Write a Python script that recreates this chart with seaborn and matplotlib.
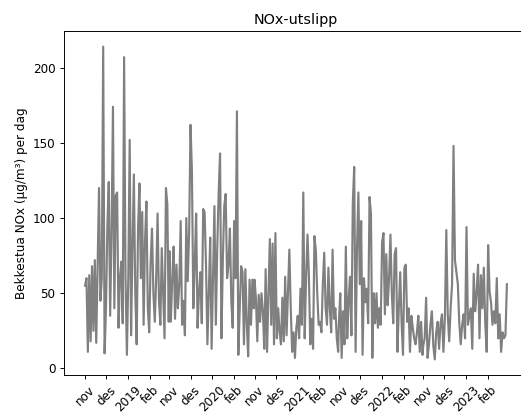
import numpy as np
import pandas as pd
import matplotlib
matplotlib.use("Agg")
import matplotlib.pyplot as plt
import seaborn as sns

# winter seasons (nov-feb), daily NOx at ~2 day steps
season_years = [2018, 2019, 2020, 2021, 2022]

nox_2018 = [55, 60, 11, 62, 18, 68, 25, 72, 17, 70, 120, 45, 60, 214, 10, 40, 95, 124, 35, 90,
            174, 40, 115, 117, 27, 60, 71, 30, 207, 60, 9, 60, 152, 22, 80, 129, 50, 16, 93, 123,
            60, 104, 29, 85, 111, 40, 24, 70, 93, 50, 31, 60, 103, 45, 29, 80, 50, 20, 120, 109, 31]
nox_2019 = [78, 31, 60, 81, 33, 69, 40, 55, 98, 29, 45, 22, 100, 58, 90, 162, 131, 40, 69, 103,
            27, 50, 64, 30, 106, 104, 69, 16, 50, 87, 13, 60, 108, 29, 80, 116, 143, 20, 73, 108,
            116, 60, 69, 93, 45, 27, 98, 60, 171, 9, 40, 68, 64, 16, 66, 30, 8, 59, 29, 59, 40]
nox_2020 = [59, 47, 18, 49, 31, 50, 38, 13, 66, 11, 50, 86, 29, 83, 16, 90, 20, 40, 24, 16,
            47, 18, 61, 22, 50, 79, 40, 11, 24, 7, 27, 35, 20, 53, 29, 117, 20, 60, 89, 62,
            16, 33, 13, 88, 78, 50, 29, 31, 24, 56, 77, 40, 29, 67, 40, 24, 79, 33, 40, 20, 11]
nox_2021 = [30, 50, 7, 38, 16, 81, 20, 45, 61, 22, 110, 134, 11, 80, 117, 56, 98, 9, 60, 44,
            53, 30, 114, 103, 7, 50, 30, 50, 27, 40, 29, 84, 90, 36, 76, 42, 60, 89, 49, 30,
            76, 80, 11, 40, 64, 30, 9, 67, 69, 31, 40, 11, 35, 27, 20, 16, 24, 35, 11, 31, 9]
nox_2022 = [15, 20, 47, 7, 16, 29, 38, 15, 6, 24, 31, 13, 30, 36, 11, 33, 92, 36, 18, 40,
            56, 148, 72, 64, 56, 30, 16, 29, 36, 20, 94, 29, 35, 40, 13, 63, 38, 50, 69, 20,
            62, 40, 67, 30, 11, 82, 51, 44, 29, 38, 30, 60, 20, 36, 11, 24, 20, 22, 56]
seasons = [nox_2018, nox_2019, nox_2020, nox_2021, nox_2022]

tick_labels = ['nov', 'des', '2019', 'feb', 'nov', 'des', '2020', 'feb',
               'nov', 'des', '2021', 'feb', 'nov', 'des', '2022', 'feb',
               'nov', 'des', '2023', 'feb']

# only winter days are on the axis, so position = running day count
days = pd.concat([pd.Series(pd.date_range(f'{y}-11-01', f'{y + 1}-02-{29 if (y + 1) % 4 == 0 else 28}'))
                  for y in season_years], ignore_index=True)
tick_pos = np.flatnonzero(days.dt.day == 1)

frames = []
offset = 0
for y, vals in zip(season_years, seasons):
    n_days = int(((days.dt.year == y) & (days.dt.month >= 11)).sum()
                 + ((days.dt.year == y + 1) & (days.dt.month <= 2)).sum())
    frames.append(pd.DataFrame({'pos': offset + np.linspace(0, n_days - 1, len(vals)), 'nox': vals}))
    offset += n_days
df = pd.concat(frames, ignore_index=True)

fig = plt.figure(figsize=(521 / 86, 419 / 86), dpi=86)
ax = fig.add_axes([0.1228, 0.105, 0.8906, 0.821])
sns.lineplot(data=df, x='pos', y='nox', color='grey', linewidth=1.8, ax=ax)
ax.set_xticks(tick_pos)
ax.set_xticklabels(tick_labels, rotation=45)
ax.set_xlabel('')
ax.set_ylabel('Bekkestua NOx (µg/m³) per dag')
ax.set_title('NOx-utslipp')
fig.savefig('out.png', dpi=86)
